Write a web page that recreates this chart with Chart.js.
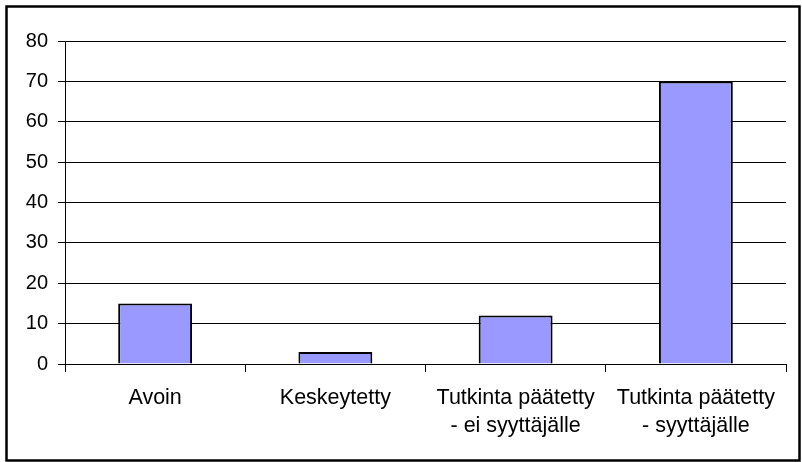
<!DOCTYPE html>
<html>
<head>
<meta charset="utf-8">
<script src="https://cdn.jsdelivr.net/npm/chart.js@4/dist/chart.umd.min.js"></script>
<style>
  html, body { margin: 0; padding: 0; background: #fff; }
  #wrap { position: relative; width: 802px; height: 462px; }
</style>
</head>
<body>
<div id="wrap"><canvas id="chart-canvas" width="802" height="462"></canvas></div>
<script>
// data
const categories = [
    'Avoin',
    'Keskeytetty',
    ['Tutkinta päätetty', '- ei syyttäjälle'],
    ['Tutkinta päätetty', '- syyttäjälle'],
]
const counts = [15, 3, 12, 70]
const y_ticks = [0, 10, 20, 30, 40, 50, 60, 70, 80]

const family = '"Liberation Sans", Arial, sans-serif'
const y_font = { family, size: 20 }
const x_font = { family, size: 21.5, lineHeight: 1.3 }

// outer frame around the whole picture
const frame_plugin = {
    id: 'frame',
    beforeDraw: (chart) => {
        const ctx = chart.ctx
        ctx.save()
        ctx.fillStyle = '#fff'
        ctx.fillRect(0, 0, chart.width, chart.height)
        ctx.restore()
    },
    afterDraw: (chart) => {
        const ctx = chart.ctx
        ctx.save()
        ctx.strokeStyle = '#000'
        ctx.lineWidth = 2.5
        ctx.strokeRect(6.5, 6.5, chart.width - 9, chart.height - 8)
        ctx.restore()
    }
}

const chart_canvas = document.getElementById('chart-canvas')
const chart = new Chart(chart_canvas, {
    type: 'bar',
    data: {
        labels: categories,
        datasets: [{
            data: counts,
            backgroundColor: '#9999ff',
            borderColor: '#000',
            borderWidth: 2,
            barPercentage: 0.41,
            categoryPercentage: 1,
        }]
    },
    options: {
        responsive: false,
        animation: false,
        layout: { padding: { left: 0, top: 41, right: 16, bottom: 0 } },
        plugins: {
            legend: { display: false },
            tooltip: { enabled: false },
        },
        scales: {
            x: {
                offset: true,
                grid: { offset: true, drawOnChartArea: false, tickLength: 8, color: '#000' },
                border: { color: '#000' },
                ticks: { color: '#000', font: x_font, padding: 12, maxRotation: 0, autoSkip: false },
                afterFit: (scale) => { scale.height = 98 },
            },
            y: {
                min: 0,
                max: 80,
                afterBuildTicks: (scale) => { scale.ticks = y_ticks.map(v => ({ value: v })) },
                grid: { tickLength: 7, color: '#000' },
                border: { color: '#000' },
                ticks: { color: '#000', font: y_font, padding: 10 },
                afterFit: (scale) => { scale.width = 65 },
            }
        }
    },
    plugins: [frame_plugin]
})
</script>
</body>
</html>
